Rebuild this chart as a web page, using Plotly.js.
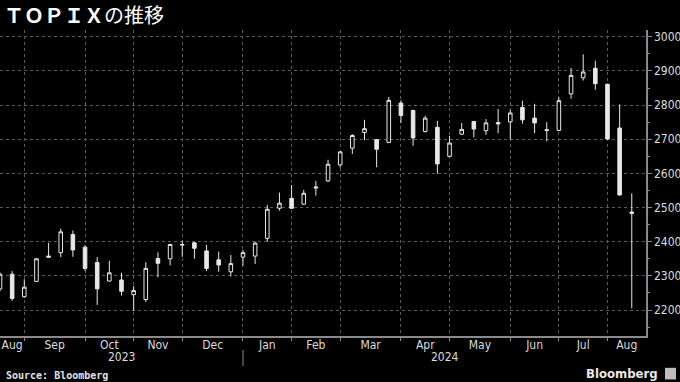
<!DOCTYPE html>
<html>
<head>
<meta charset="utf-8">
<script src="https://cdn.plot.ly/plotly-3.0.1.min.js"></script>
<style>html,body{margin:0;padding:0;background:#000;}#chart{width:680px;height:382px;}</style>
</head>
<body>
<div id="chart"></div>
<script>
// Weekly TOPIX candles (Aug 2023 – Aug 2024)
const openVals  = [2262,2305,2239,2284,2358,2368,2421,2384,2339,2285,2288,2245,2231,2351,2350,2390,2397,2373,2347,2312,2355,2358,2410,2498,2527,2510,2557,2578,2625,2674,2720,2699,2691,2806,2784,2723,2735,2650,2715,2752,2725,2749,2751,2793,2762,2728,2726,2833,2880,2908,2861,2733,2487];
const highVals  = [2310,2314,2290,2352,2397,2438,2433,2390,2355,2344,2309,2270,2340,2369,2394,2403,2399,2391,2371,2361,2376,2400,2508,2544,2566,2552,2578,2640,2666,2715,2757,2701,2824,2814,2787,2769,2754,2710,2748,2754,2759,2789,2786,2813,2804,2750,2823,2909,2949,2930,2863,2802,2542];
const lowVals   = [2255,2227,2236,2282,2354,2355,2356,2315,2215,2283,2242,2197,2223,2296,2331,2356,2350,2314,2312,2298,2330,2335,2400,2491,2497,2508,2535,2575,2617,2657,2697,2618,2689,2748,2681,2720,2599,2648,2713,2706,2713,2718,2699,2746,2718,2694,2724,2819,2872,2845,2699,2535,2205];
const closeVals = [2305,2234,2267,2350,2355,2429,2376,2322,2262,2309,2255,2257,2322,2337,2392,2392,2381,2322,2332,2336,2368,2396,2495,2513,2498,2542,2560,2627,2663,2711,2731,2671,2814,2770,2704,2762,2628,2689,2729,2730,2748,2745,2777,2757,2748,2726,2813,2887,2897,2863,2701,2537,2483];

// Week index at which each new month starts (grid lines) and month labels
const monthStartWeek = [2,7,11,15,20,24,28,33,37,42,46,50];
const monthLabels = ['Aug','Sep','Oct','Nov','Dec','Jan','Feb','Mar','Apr','May','Jun','Jul','Aug'];
const yearLabels = ['2023','2024'];

const weekIdx = openVals.map((_, i) => i);
const xMin = 0, xMax = 53.17;
const bounds = [xMin].concat(monthStartWeek, [xMax]);
const labelPos = monthLabels.map((_, i) => (bounds[i] + bounds[i + 1]) / 2);
const janWeek = monthStartWeek[4];

const fg = '#e8e8e8';
const axisFont = {family: 'DejaVu Sans Condensed, DejaVu Sans, sans-serif', size: 12, color: '#dcdcdc'};

const trace = {
  type: 'candlestick',
  x: weekIdx, open: openVals, high: highVals, low: lowVals, close: closeVals,
  increasing: {line: {color: fg, width: 1}, fillcolor: '#000'},
  decreasing: {line: {color: fg, width: 1}, fillcolor: fg},
  whiskerwidth: 0,
  hoverinfo: 'skip',
  showlegend: false
};
const dummy = {x: labelPos, y: labelPos.map(() => null), xaxis: 'x2', type: 'scatter', mode: 'markers', showlegend: false, hoverinfo: 'skip'};

const layout = {
  width: 680, height: 382,
  paper_bgcolor: '#000', plot_bgcolor: '#000',
  margin: {l: 0, r: 34, t: 30, b: 46},
  boxgap: 0.58,
  title: {
    text: '<b>ＴＯＰＩＸ</b>の推移',
    font: {family: 'Noto Sans CJK JP', size: 20, color: '#ffffff'},
    x: 4 / 680, xref: 'container', xanchor: 'left',
    y: 1 - 16 / 382, yref: 'container', yanchor: 'middle'
  },
  xaxis: {
    range: [xMin, xMax], type: 'linear',
    tickvals: monthStartWeek, showticklabels: false,
    showgrid: true, gridcolor: '#5a5a5a', griddash: 'dot', gridwidth: 1,
    showline: true, linecolor: '#8a8a8a', linewidth: 1.5,
    ticks: 'outside', ticklen: 3, tickcolor: '#8a8a8a',
    zeroline: false, fixedrange: true,
    rangeslider: {visible: false}
  },
  xaxis2: {
    overlaying: 'x', anchor: 'y', side: 'bottom',
    range: [xMin, xMax], type: 'linear',
    tickvals: labelPos, ticktext: monthLabels,
    showgrid: false, showline: false, ticks: '', zeroline: false,
    tickfont: axisFont, ticklabelstandoff: 0
  },
  yaxis: {
    side: 'right', range: [2124, 3020], dtick: 100, tick0: 2000,
    showgrid: true, gridcolor: '#5a5a5a', griddash: 'dot', gridwidth: 1,
    showline: true, linecolor: '#8a8a8a', linewidth: 1.5,
    ticks: 'outside', ticklen: 4, tickcolor: '#8a8a8a',
    minor: {dtick: 50, ticks: 'outside', ticklen: 2, tickcolor: '#8a8a8a', showgrid: false},
    tickfont: axisFont, zeroline: false, fixedrange: true
  },
  shapes: [
    {type: 'line', xref: 'x', yref: 'paper', x0: janWeek, x1: janWeek, y0: -0.046, y1: -0.098,
     line: {color: '#8a8a8a', width: 1}}
  ],
  annotations: [
    {text: yearLabels[0], xref: 'x', yref: 'paper', x: (xMin + janWeek) / 2, y: -0.07, yanchor: 'middle',
     showarrow: false, font: axisFont},
    {text: yearLabels[1], xref: 'x', yref: 'paper', x: (janWeek + xMax) / 2, y: -0.07, yanchor: 'middle',
     showarrow: false, font: axisFont},
    {text: '<b>Source: Bloomberg</b>', xref: 'paper', yref: 'paper', x: -0.0, xanchor: 'left',
     y: -0.128, yanchor: 'middle', xshift: 4, showarrow: false,
     font: {family: 'DejaVu Sans Mono', size: 10, color: '#e0e0e0'}},
    {text: '<b>Bloomberg</b>', xref: 'paper', yref: 'paper', x: 1, xanchor: 'right',
     y: -0.121, yanchor: 'middle', xshift: 14, showarrow: false,
     font: {family: 'DejaVu Sans Condensed, DejaVu Sans', size: 13, color: '#e8e8e8'}}
  ]
};

// small logo glyph box at bottom right
layout.shapes.push({type: 'rect', xref: 'paper', yref: 'paper',
  x0: 1 + 19 / 646, x1: 1 + 30 / 646, y0: -0.104, y1: -0.142,
  fillcolor: '#bdbdbd', line: {width: 0}});

Plotly.newPlot('chart', [trace, dummy], layout, {displayModeBar: false, staticPlot: true});
</script>
</body>
</html>
